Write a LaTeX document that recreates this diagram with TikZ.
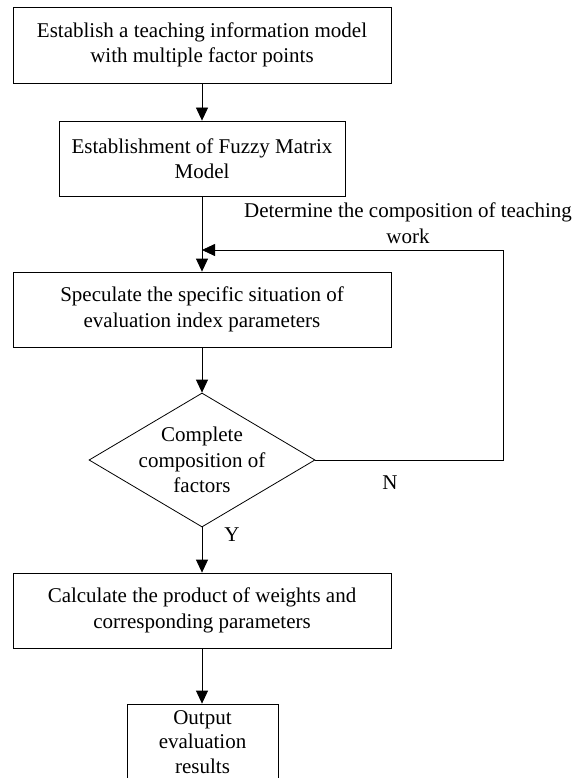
\documentclass[tikz,border=0pt]{standalone}
\usepackage{fontspec}
\setmainfont{Liberation Serif}
\usetikzlibrary{shapes.geometric,arrows.meta}
\tikzset{
  every node/.style={font=\fontsize{21}{25.5}\selectfont},
  procbox/.style={draw, line width=0.8pt, align=center, inner sep=0pt},
  conn/.style={line width=0.8pt, -{Triangle[length=13pt,width=12pt]}},
  plainline/.style={line width=0.8pt},
  lbltext/.style={inner sep=0pt, align=center}
}
\begin{document}
\begin{tikzpicture}[x=1pt,y=-1pt]
\useasboundingbox (0,0) rectangle (579,778);
\clip (0,0) rectangle (579,778);
\node[procbox, minimum width=378pt, minimum height=76pt] (b1) at (202,45)
  {Establish a teaching information model\\with multiple factor points};
\node[procbox, minimum width=286pt, minimum height=75pt] (b2) at (202,158.5)
  {Establishment of Fuzzy Matrix\\Model};
\node[procbox, minimum width=378pt, minimum height=75pt] (b3) at (202,309.5)
  {Speculate the specific situation of\\evaluation index parameters};
\node[draw, line width=0.8pt, diamond, aspect=1.686, inner sep=0pt,
      minimum width=226pt, minimum height=134pt] (dec) at (202,460) {};
\node[lbltext] (dect) at (dec.center) {Complete\\composition of\\factors};
\node[procbox, minimum width=151pt, minimum height=76pt,
      font=\fontsize{21}{24.5}\selectfont] (b5) at (202.5,742)
  {Output\\evaluation\\results};
\node[procbox, minimum width=378pt, minimum height=75pt] (b4) at (202,610.5)
  {Calculate the product of weights and\\corresponding parameters};
\node[lbltext] (fblbl) at (408,223) {Determine the composition of teaching\\work};
\node[lbltext] (ylbl) at (232,535) {Y};
\node[lbltext] (nlbl) at (390,483) {N};
\coordinate (fbR) at (503,460);
\coordinate (fbT) at (503,250);
\coordinate (fbJ) at (202,250);
\draw[conn] (b1.south) -- (b2.north);
\draw[conn] (b2.south) -- (b3.north);
\draw[conn] (b3.south) -- (dec.north);
\draw[conn] (dec.south) -- (b4.north);
\draw[conn] (b4.south) -- (b4.south |- b5.north);
\draw[plainline] (dec.east) -- (fbR) -- (fbT);
\draw[conn] (fbT) -- (fbJ);
\end{tikzpicture}
\end{document}
